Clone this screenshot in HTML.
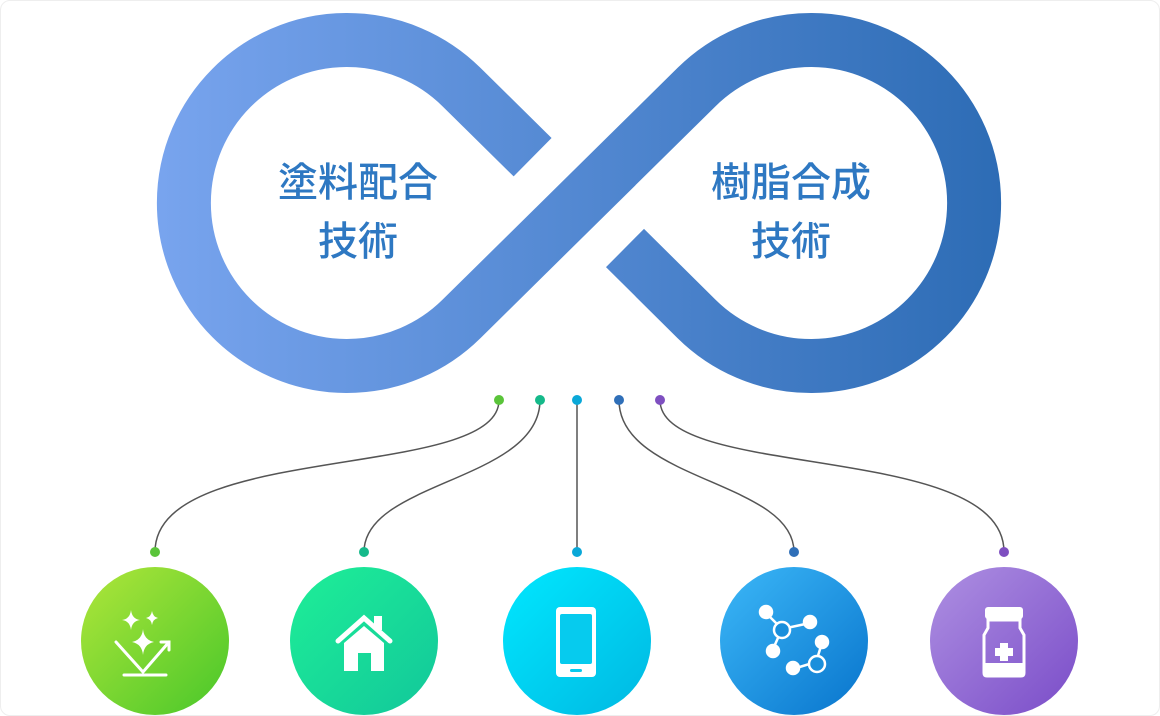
<!DOCTYPE html>
<html><head><meta charset="utf-8"><style>
html,body{margin:0;padding:0;background:#fff}
.wrap{width:1158px;height:714px;border:1px solid #eee;border-radius:10px;position:relative;overflow:hidden}
svg{position:absolute;left:0;top:0}
</style></head><body><div class="wrap">
<svg width="1160" height="716" viewBox="0 0 1160 716">
<defs>
<linearGradient id="inf" gradientUnits="userSpaceOnUse" x1="158" y1="0" x2="1000" y2="0">
<stop offset="0" stop-color="#78a4ee"/><stop offset="1" stop-color="#2d6cb5"/></linearGradient>
<linearGradient id="g1" x1="0" y1="0" x2="1" y2="1"><stop offset="0" stop-color="#b0e63a"/><stop offset="1" stop-color="#48c72a"/></linearGradient>
<linearGradient id="g2" x1="0" y1="0" x2="1" y2="1"><stop offset="0" stop-color="#1eef98"/><stop offset="1" stop-color="#12c79a"/></linearGradient>
<linearGradient id="g3" x1="0" y1="0" x2="1" y2="1"><stop offset="0" stop-color="#00e8ff"/><stop offset="1" stop-color="#00b8e2"/></linearGradient>
<linearGradient id="g4" x1="0" y1="0" x2="1" y2="1"><stop offset="0" stop-color="#3cb8f8"/><stop offset="1" stop-color="#0874cc"/></linearGradient>
<linearGradient id="g5" x1="0" y1="0" x2="1" y2="1"><stop offset="0" stop-color="#ae90e2"/><stop offset="1" stop-color="#7a4cc8"/></linearGradient>
</defs>
<g fill="none" stroke="url(#inf)" stroke-width="54" stroke-linecap="butt">
<path d="M531.6,156.2 L460.4,86 A163,163 0 1 0 460.4,318 L695.6,86 A163,163 0 1 1 695.6,318 L624,247"/>
</g>
<g font-family="'Liberation Sans','Noto Sans CJK JP',sans-serif" font-size="40" fill="#2e78c2" text-anchor="middle" font-weight="500">
<text x="357" y="195">塗料配合</text><text x="357" y="254">技術</text>
<text x="790" y="195">樹脂合成</text><text x="790" y="254">技術</text>
</g>
<g fill="none" stroke="#555" stroke-width="1.5">
<path d="M498,399 C498,480 154,440 154,551"/>
<path d="M539,399 C539,480 363,480 363,551"/>
<path d="M576,399 L576,551"/>
<path d="M618,399 C618,480 793,480 793,551"/>
<path d="M659,399 C659,480 1003,440 1003,551"/>
</g>
<g>
<circle cx="498" cy="399" r="5" fill="#5ac43a"/><circle cx="539" cy="399" r="5" fill="#15b98a"/><circle cx="576" cy="399" r="5" fill="#0aa8d8"/><circle cx="618" cy="399" r="5" fill="#2f6fb8"/><circle cx="659" cy="399" r="5" fill="#7e4fc0"/>
<circle cx="154" cy="551" r="5" fill="#5ac43a"/><circle cx="363" cy="551" r="5" fill="#15b98a"/><circle cx="576" cy="551" r="5" fill="#0aa8d8"/><circle cx="793" cy="551" r="5" fill="#2f6fb8"/><circle cx="1003" cy="551" r="5" fill="#7e4fc0"/>
</g>
<circle cx="154" cy="640" r="74" fill="url(#g1)"/>
<circle cx="363" cy="640" r="74" fill="url(#g2)"/>
<circle cx="576" cy="640" r="74" fill="url(#g3)"/>
<circle cx="793" cy="640" r="74" fill="url(#g4)"/>
<circle cx="1003" cy="640" r="74" fill="url(#g5)"/>
<g fill="#fff" stroke="#fff" stroke-width="3" stroke-linecap="round">
<path d="M115,641 L142,671 L168,641" fill="none"/><path d="M160,641 L168,641 L168,649" fill="none"/>
<line x1="123" y1="674" x2="165" y2="674"/>
</g>
<g fill="#fff">
<path d="M130,609 Q131,618 139,619 Q131,620 130,629 Q129,620 121,619 Q129,618 130,609Z"/>
<path d="M151,610 Q152,616 157,617 Q152,618 151,624 Q150,618 145,617 Q150,616 151,610Z"/>
<path d="M142,628 Q143,639 153,641 Q143,643 142,654 Q141,643 131,641 Q141,639 142,628Z"/>
</g>
<g fill="#fff"><path d="M337,640 L363,617 L389,640" fill="none" stroke="#fff" stroke-width="5" stroke-linecap="round"/>
<rect x="373" y="615" width="8" height="14"/>
<path d="M343,642 L363,625 L383,642 L383,670 L370,670 L370,652 L357,652 L357,670 L343,670Z"/></g>
<g><rect x="555" y="606" width="40" height="70" rx="4" fill="#fff"/><rect x="559" y="613" width="32" height="50" rx="2" fill="#06cbee"/><rect x="569" y="668" width="12" height="3" rx="1.5" fill="#06cbee"/></g>
<g stroke="#fff" stroke-width="2.5" fill="#fff">
<line x1="765" y1="612" x2="781" y2="628"/><line x1="781" y1="628" x2="809" y2="622"/><line x1="781" y1="628" x2="772" y2="648"/>
<line x1="821" y1="642" x2="815" y2="661"/><line x1="815" y1="661" x2="792" y2="668"/>
<circle cx="765" cy="611" r="6"/><circle cx="809" cy="621" r="6"/><circle cx="772" cy="650" r="6"/><circle cx="821" cy="641" r="6"/><circle cx="792" cy="667" r="6"/>
<circle cx="781" cy="629" r="8" fill="#1a8fdc"/><circle cx="816" cy="663" r="8" fill="#1a8fdc"/>
</g>
<g><rect x="984" y="606" width="38" height="12" rx="3" fill="#fff"/>
<path d="M987,619 L1019,619 L1019,627 L1023,634 L1023,672 Q1023,675 1020,675 L986,675 Q983,675 983,672 L983,634 L987,627Z" fill="none" stroke="#fff" stroke-width="3"/>
<rect x="984" y="662" width="38" height="12" fill="#fff"/>
<rect x="999" y="642" width="8" height="18" fill="#fff"/><rect x="994" y="647" width="18" height="8" fill="#fff"/></g>
</svg></div></body></html>
